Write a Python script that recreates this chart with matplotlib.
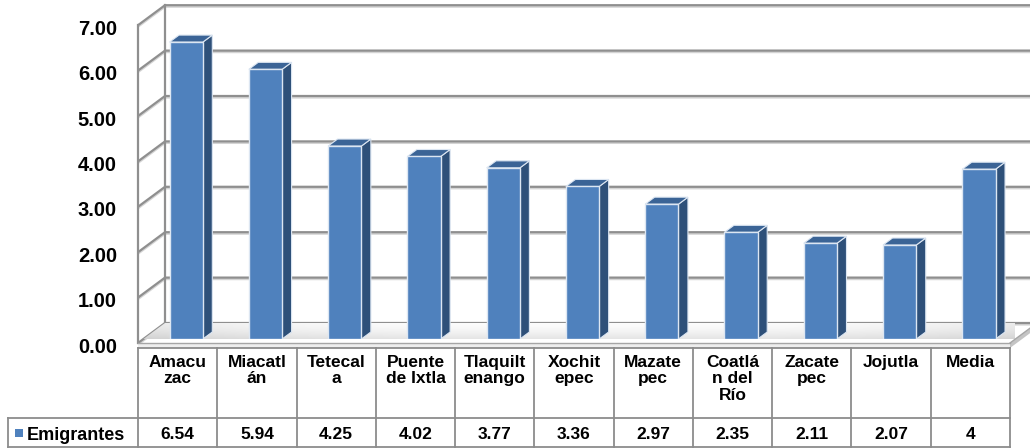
import numpy as np
import matplotlib
matplotlib.use('Agg')
import matplotlib.pyplot as plt
from matplotlib.patches import Polygon, Rectangle
import matplotlib.transforms as mtransforms

# ---------------- data ----------------
categories = ["Amacu\nzac", "Miacatl\nán", "Tetecal\na", "Puente\nde Ixtla",
              "Tlaquilt\nenango", "Xochit\nepec", "Mazate\npec", "Coatlá\nn del\nRío",
              "Zacate\npec", "Jojutla", "Media"]
values = [6.54, 5.94, 4.25, 4.02, 3.77, 3.36, 2.97, 2.35, 2.11, 2.07, 3.74]
value_labels = ["6.54", "5.94", "4.25", "4.02", "3.77", "3.36", "2.97", "2.35",
                "2.11", "2.07", "4"]
series_name = "Emigrantes"
yticks = [0, 1, 2, 3, 4, 5, 6, 7]
ytick_labels = ["0.00", "1.00", "2.00", "3.00", "4.00", "5.00", "6.00", "7.00"]

# ---------------- style / layout ----------------
plt.rcParams['font.family'] = ['Liberation Sans', 'DejaVu Sans']
W, H = 1030, 448
FRONT = '#4F81BD'
SIDE = '#2E5079'
TOP = '#3B6496'
EDGE_HI = '#DCE6F2'
GRID = '#8F8F8F'
TABLE_LINE = '#8C8C8C'

front_left, front_right, front_base = 138, 1010, 343   # pixel layout of front plane
px_per_unit = 45.4
depth_px = (27.0, 20.0)
bar_front_frac, bar_depth_frac = 0.2, 0.35
bar_width, bar_shift = 0.42, 0.04
table_top, row_split = 348, 418

n = len(categories)
ymax = yticks[-1]
cat_px = (front_right - front_left) / n

fig = plt.figure(figsize=(W / 100, H / 100), dpi=100)
fig.patch.set_facecolor('white')

bp_left = front_left + bar_front_frac * depth_px[0]
bp_base = front_base - bar_front_frac * depth_px[1]
ax = fig.add_axes([bp_left / W, (H - bp_base) / H, n * cat_px / W, ymax * px_per_unit / H])
ax.axis('off')

ddx = depth_px[0] / cat_px
ddy = depth_px[1] / px_per_unit


def plane(frac):
    return ((frac - bar_front_frac) * ddx, (frac - bar_front_frac) * ddy)


fx, fy = plane(0.0)
bx, by = plane(1.0)
lx, rx = -0.5, n - 0.5

# floor with gradient
floor_poly = Polygon([(lx + fx, fy), (rx + fx, fy), (rx + bx, by), (lx + bx, by)],
                     closed=True, facecolor='none', edgecolor='none')
ax.add_patch(floor_poly)
gy = np.linspace(0, 1, 50)[:, None]
gx = np.linspace(0, 1, 200)[None, :]
shade = 0.99 - 0.13 * (gy ** 1.5) - 0.08 * (np.abs(gx - 0.5) * 2) ** 3
img = np.dstack([shade, shade, shade])
im = ax.imshow(img, extent=[lx + fx, rx + bx, fy, by], origin='upper', aspect='auto',
               zorder=1, interpolation='bilinear')
im.set_clip_path(floor_poly)
# floor thickness
th = 5 / px_per_unit
ax.add_patch(Polygon([(lx + fx, fy), (rx + fx, fy), (rx + fx, fy - th), (lx + fx, fy - th)],
                     closed=True, facecolor='#EEEEEE', edgecolor='none', zorder=1.5, clip_on=False))
ax.add_patch(Polygon([(rx + fx, fy), (rx + bx, by), (rx + bx, by - th), (rx + fx, fy - th)],
                     closed=True, facecolor='#C4C4C4', edgecolor='none', zorder=1.5, clip_on=False))
ax.plot([lx + fx, rx + fx], [fy, fy], color='#A6A6A6', lw=1.0, zorder=1.6, clip_on=False)
ax.plot([rx + fx, rx + bx], [fy, by], color='#A6A6A6', lw=1.0, zorder=1.6, clip_on=False)

# gridlines on side wall and back wall
shadow = mtransforms.offset_copy(ax.transData, fig=fig, x=0, y=-1.5, units='dots')
for t in yticks:
    xs = [lx + fx, lx + bx, rx + bx + 1.0]
    ys = [t + fy, t + by, t + by]
    ax.plot(xs, ys, color='#D4D4D4', lw=1.6, zorder=0.5, clip_on=False, transform=shadow,
            solid_capstyle='butt')
    ax.plot(xs, ys, color=GRID, lw=1.6, zorder=0.6, clip_on=False, solid_capstyle='butt')
# side wall verticals
ax.plot([lx + fx, lx + fx], [fy, ymax + fy], color=GRID, lw=1.6, zorder=0.6, clip_on=False)
ax.plot([lx + bx, lx + bx], [by, ymax + by], color=GRID, lw=1.6, zorder=0.6, clip_on=False)

# bars
bdx = bar_depth_frac * ddx
bdy = bar_depth_frac * ddy
xpos = np.arange(n) + bar_shift
ax.bar(xpos, values, width=bar_width, color=FRONT, edgecolor=EDGE_HI, linewidth=1.0, zorder=5)
for x, v in zip(xpos, values):
    xr = x + bar_width / 2
    xl = x - bar_width / 2
    ax.add_patch(Polygon([(xr, 0), (xr + bdx, bdy), (xr + bdx, v + bdy), (xr, v)], closed=True,
                         facecolor=SIDE, edgecolor=EDGE_HI, linewidth=0.8, zorder=4))
    ax.add_patch(Polygon([(xl, v), (xr, v), (xr + bdx, v + bdy), (xl + bdx, v + bdy)], closed=True,
                         facecolor=TOP, edgecolor=EDGE_HI, linewidth=0.8, zorder=4))

ax.set_xlim(lx, rx)
ax.set_ylim(0, ymax)

# y tick labels (front plane)
lab_tr = ax.transData + mtransforms.ScaledTranslation(-21 / 100, -4 / 100, fig.dpi_scale_trans)
for t, s in zip(yticks, ytick_labels):
    ax.text(lx + fx, t + fy, s, transform=lab_tr, ha='right', va='center',
            fontsize=14.5, fontweight='bold', color='black', clip_on=False)

# ---------------- data table ----------------
tax = fig.add_axes([front_left / W, 0, n * cat_px / W, (H - table_top) / H])
tax.axis('off')
tax.set_xlim(-0.5, n - 0.5)
tax.set_ylim(0, H - table_top)
top_y = H - table_top
mid_y = H - row_split
bot_y = 0.6
leg_left = (8 - front_left) / cat_px - 0.5
kw = dict(color=TABLE_LINE, lw=1.3, clip_on=False, solid_capstyle='projecting')
tax.plot([-0.5, n - 0.5], [top_y, top_y], **kw)
tax.plot([leg_left, n - 0.5], [mid_y, mid_y], **kw)
tax.plot([leg_left, n - 0.5], [bot_y, bot_y], **kw)
for k in range(n + 1):
    tax.plot([k - 0.5, k - 0.5], [bot_y, top_y], **kw)
tax.plot([leg_left, leg_left], [bot_y, mid_y], **kw)

for i, (c, s) in enumerate(zip(categories, value_labels)):
    tax.text(i, top_y - 7.0, c, ha='center', va='top', fontsize=12.5, fontweight='bold',
             linespacing=1.12, clip_on=False)
    tax.text(i, mid_y / 2, s, ha='center', va='center_baseline', fontsize=12.5,
             fontweight='bold', clip_on=False)

sq = 8
tax.add_patch(Rectangle(((15 - front_left) / cat_px - 0.5, mid_y / 2 - sq / 2), sq / cat_px, sq,
                        facecolor=FRONT, edgecolor='none', clip_on=False))
tax.text((27 - front_left) / cat_px - 0.5, mid_y / 2, series_name, ha='left',
         va='center_baseline', fontsize=13, fontweight='bold', clip_on=False)

fig.savefig('out.png', dpi=100, facecolor='white')
